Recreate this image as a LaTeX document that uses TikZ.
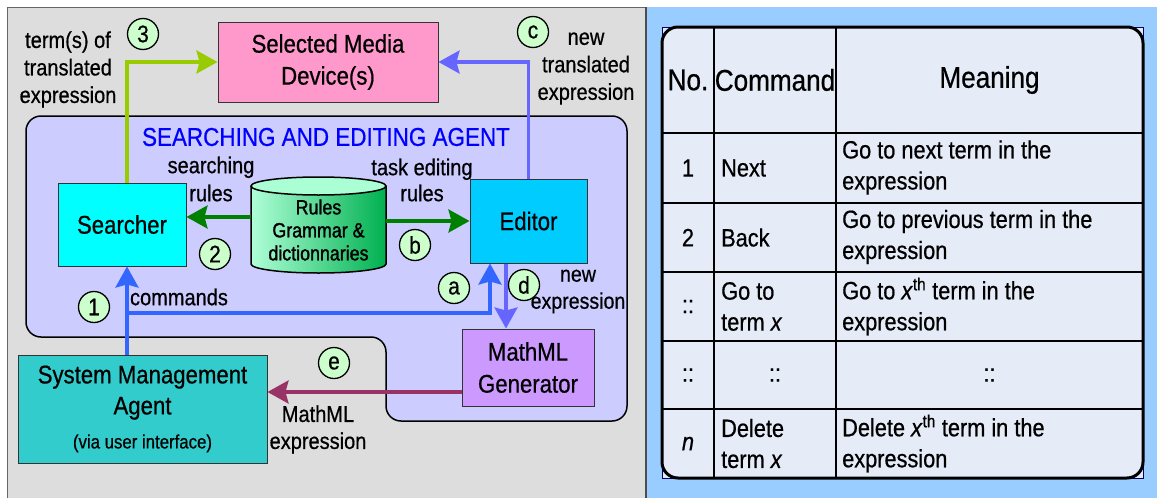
\documentclass[tikz,border=0pt]{standalone}
\usepackage{fontspec}
\setmainfont{Liberation Sans}[FakeStretch=0.87,FakeBold=0.6]
\usetikzlibrary{arrows.meta}
\definecolor{bggray}{RGB}{221,221,221}
\definecolor{bgblue}{RGB}{153,204,255}
\definecolor{agentfill}{RGB}{204,204,255}
\definecolor{pinkbox}{RGB}{255,153,204}
\definecolor{cyanbox}{RGB}{0,255,255}
\definecolor{editbox}{RGB}{0,204,255}
\definecolor{mmlbox}{RGB}{204,153,255}
\definecolor{smabox}{RGB}{51,204,204}
\definecolor{circfill}{RGB}{204,255,204}
\definecolor{lgreen}{RGB}{153,204,0}
\definecolor{violetblue}{RGB}{102,102,255}
\definecolor{cmdblue}{RGB}{51,102,255}
\definecolor{dgreen}{RGB}{0,128,0}
\definecolor{maroonc}{RGB}{153,51,102}
\definecolor{tablefill}{RGB}{230,236,247}
\definecolor{cylL}{RGB}{175,255,215}
\definecolor{cylR}{RGB}{0,176,80}
\definecolor{cyltop}{RGB}{170,255,212}
\definecolor{titleblue}{RGB}{0,0,255}
\newcommand\fsz[2]{\fontsize{#1}{#2}\selectfont}
\begin{document}
\begin{tikzpicture}[x=1pt,y=-1pt,
  boxst/.style={draw=black!80, line width=1pt, inner sep=0pt, align=center, font=\fsz{25.5}{32}},
  lbl/.style={inner sep=0pt, align=center, font=\fsz{23}{27.5}},
  circ/.style={circle, draw=black, line width=1.3pt, fill=circfill, minimum size=31pt, inner sep=0pt, font=\fsz{24}{26}},
  arr/.style={line width=3.5pt, -{Stealth[length=21pt,width=23pt,inset=3pt]}},
  tcell/.style={inner sep=0pt, align=left, anchor=west, font=\fsz{25}{31}},
  tnum/.style={inner sep=0pt, align=center, font=\fsz{25}{31}}
]
\useasboundingbox (0,0) rectangle (1157,498);
% panels
\fill[white] (0,0) rectangle (1157,498);
\draw[draw=black!60, line width=1pt, fill=bggray] (7,7) rectangle (645,510);
\fill[bgblue] (646.5,7) rectangle (1160,510);
\draw[black!70, line width=1.5pt] (646,7) -- (646,510);
% agent region
\draw[fill=agentfill, line width=1.5pt, rounded corners=15pt]
  (26,116) -- (627,116) -- (627,421) -- (386,421) -- (386,337) -- (26,337) -- cycle;
\node[inner sep=0pt, text=titleblue, font=\fsz{25.8}{30}] (title) at (326,137) {SEARCHING AND EDITING AGENT};
% boxes
\node[boxst, fill=pinkbox, minimum width=220pt, minimum height=80pt] (media) at (328,62) {Selected Media\\Device(s)};
\node[boxst, fill=cyanbox, minimum width=128pt, minimum height=83pt] (searcher) at (122,224.5) {Searcher};
\node[boxst, fill=editbox, minimum width=117pt, minimum height=84pt] (editor) at (528.5,221) {Editor};
\node[boxst, fill=mmlbox, minimum width=132pt, minimum height=77pt] (mml) at (528,367.5) {MathML\\Generator};
\node[boxst, fill=smabox, minimum width=249pt, minimum height=108pt, font=\fsz{25.5}{31}] (sma) at (142.5,409)
  {System Management\\Agent\\[3pt]{\fsz{19.3}{22}(via user interface)}};
% database cylinder
\node[minimum width=135pt, minimum height=96pt, inner sep=0pt] (db) at (318.5,225) {};
\shade[left color=cylL, right color=cylR] (251,186) -- (251,264)
  arc[start angle=180, end angle=0, x radius=67.5, y radius=9] -- (386,186) -- cycle;
\draw[line width=1.5pt] (251,186) -- (251,264)
  arc[start angle=180, end angle=0, x radius=67.5, y radius=9] -- (386,186);
\draw[line width=1.5pt, fill=cyltop] (318.5,186) ellipse[x radius=67.5, y radius=9];
\node[inner sep=0pt, align=center, font=\fsz{20.5}{23}\addfontfeature{FakeBold=1.5}] (dbtext) at (318.5,230) {Rules\\Grammar \&\\dictionnaries};
% arrows
\draw[arr, lgreen] ([xshift=5pt]searcher.north) |- (media.west);
\draw[arr, violetblue] (editor.north) |- (media.east);
\draw[arr, dgreen] ([yshift=8pt]db.west) -- ([yshift=8pt]db.west -| searcher.east);
\draw[arr, dgreen] ([yshift=4pt]db.east) -- ([yshift=4pt]db.east -| editor.west);
\draw[arr, cmdblue] ([xshift=5pt]searcher.south |- sma.north) -- ([xshift=5pt]searcher.south);
\coordinate (junc) at (127,313);
\draw[arr, cmdblue] (junc) -| ([xshift=-38.5pt]editor.south);
\draw[arr, violetblue] ([xshift=-22.5pt]editor.south) -- ([xshift=-22.5pt]editor.south |- mml.north);
\draw[arr, maroonc] ([yshift=-24.5pt]mml.west) -- ([yshift=-24.5pt]mml.west -| sma.east);
% circles
\node[circ] (c3) at (143,34) {3};
\node[circ] (cc) at (533,32) {c};
\node[circ] (c2) at (215,254) {2};
\node[circ] (cb) at (415,245) {b};
\node[circ] (ca) at (454,288) {a};
\node[circ] (cd) at (524,285) {d};
\node[circ] (c1) at (94,307) {1};
\node[circ] (ce) at (334,363) {e};
% labels
\node[lbl] (l3) at (68,69.5) {term(s) of\\translated\\expression};
\node[lbl] (lc) at (586,68.5) {new\\translated\\expression};
\node[lbl, font=\fsz{23}{28}] (l2) at (211,179) {searching\\rules};
\node[lbl, font=\fsz{23}{26}] (lb) at (422,180) {task editing\\rules};
\node[lbl] (l1) at (179,297) {commands};
\node[lbl, font=\fsz{22.5}{27}] (ld) at (578,291.5) {new\\expression};
\node[lbl, font=\fsz{23}{27}] (le) at (318,429.5) {MathML\\expression};
% table
\draw[fill=tablefill, draw=blue!40!black, line width=0.6pt] (662,27) rectangle (1143,478);
\draw[black, line width=1.5pt] (714,27) -- (714,478) (836,27) -- (836,478);
\foreach \yy in {133,203,272,341,409} \draw[black, line width=1.5pt] (662,\yy) -- (1143,\yy);
\draw[line width=3pt, rounded corners=16pt] (662,27) rectangle (1143,478);
\node[tnum, font=\fsz{30}{31}] (hno) at (688,80) {No.};
\node[tnum, font=\fsz{30}{31}] (hcmd) at (775,80) {Command};
\node[tnum, font=\fsz{30}{31}] (hmean) at (989.5,80) {Meaning};
\node[tnum] (n1) at (688,168) {1};
\node[tcell] (m1) at (721,168) {Next};
\node[tcell] (d1) at (842,167.5) {Go to next term in the\\expression};
\node[tnum] (n2) at (688,237.5) {2};
\node[tcell] (m2) at (721,237.5) {Back};
\node[tcell] (d2) at (842,237) {Go to previous term in the\\expression};
\node[tnum] (n3) at (688,306.5) {::};
\node[tcell] (m3) at (721,306.5) {Go to\\term \textit{x}};
\node[tcell] (d3) at (842,306.5) {Go to \textit{x}\textsuperscript{th} term in the\\expression};
\node[tnum] (n4) at (688,375) {::};
\node[tnum] (m4) at (775,375) {::};
\node[tnum] (d4) at (989.5,375) {::};
\node[tnum] (n5) at (688,443.5) {\textit{n}};
\node[tcell] (m5) at (721,443.5) {Delete\\term \textit{x}};
\node[tcell] (d5) at (842,443.5) {Delete \textit{x}\textsuperscript{th} term in the\\expression};
\end{tikzpicture}
\end{document}
